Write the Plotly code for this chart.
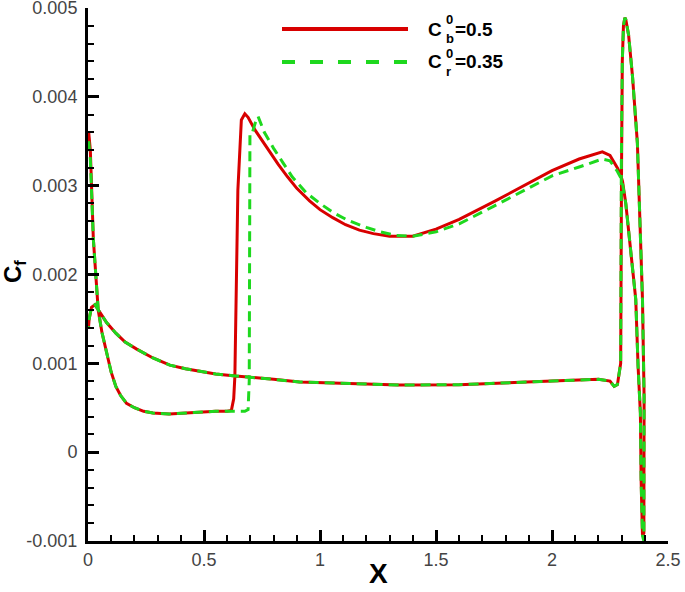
import plotly.graph_objects as go

# skin friction, red case (Cb0 = 0.5) - one closed loop: upper surface -> TE -> lower surface
x_red = [0.003, 0.01, 0.023, 0.035, 0.044, 0.06, 0.08, 0.1, 0.12, 0.14, 0.166, 0.2, 0.24, 0.28,
         0.35, 0.41, 0.48, 0.55, 0.6, 0.618, 0.628, 0.633, 0.646, 0.661, 0.676, 0.69, 0.719,
         0.769, 0.82, 0.86, 0.9, 0.955, 1.0, 1.055, 1.11, 1.17, 1.23, 1.3, 1.4, 1.5, 1.6, 1.75,
         1.9, 2.0, 2.117, 2.2, 2.217, 2.25, 2.282, 2.296, 2.304, 2.318, 2.332, 2.347, 2.361,
         2.371, 2.379, 2.381, 2.384, 2.39, 2.396, 2.397, 2.397, 2.39, 2.382, 2.379, 2.368, 2.347,
         2.33, 2.318, 2.314, 2.308, 2.303, 2.3, 2.298, 2.296, 2.282, 2.268, 2.25, 2.2, 2.0, 1.8,
         1.6, 1.342, 1.1, 0.912, 0.8, 0.7, 0.625, 0.55, 0.482, 0.42, 0.353, 0.28, 0.21, 0.16,
         0.12, 0.08, 0.05, 0.03, 0.015, 0.005, 0.002]
cf_red = [0.0036, 0.0034, 0.0024, 0.0019, 0.0016, 0.00135, 0.00112, 0.0009, 0.00074, 0.00064,
          0.00055, 0.0005, 0.00046, 0.00044, 0.00043, 0.00044, 0.00045, 0.00046, 0.00046,
          0.00047, 0.0006, 0.00085, 0.00295, 0.00374, 0.00381, 0.00377, 0.00363, 0.00343, 0.00324,
          0.0031, 0.00297, 0.00283, 0.00273, 0.00264, 0.00256, 0.0025, 0.00246, 0.00243, 0.00243,
          0.00251, 0.00262, 0.00282, 0.00303, 0.00317, 0.0033, 0.00337, 0.00338, 0.00334, 0.0032,
          0.00312, 0.00305, 0.0028, 0.00247, 0.0021, 0.00172, 0.00097, 0.00063, 0.00044, -0.0003,
          -0.00094, -0.00091, 0.00044, 0.00063, 0.00172, 0.00247, 0.00273, 0.00348, 0.00423,
          0.0047, 0.00487, 0.00489, 0.0048, 0.0044, 0.0033, 0.0015, 0.001, 0.00076, 0.00074,
          0.0008, 0.00082, 0.0008, 0.00078, 0.00076, 0.000755, 0.00077, 0.00079, 0.00082, 0.00084,
          0.00086, 0.00088, 0.00091, 0.00094, 0.00098, 0.00106, 0.00116, 0.00124, 0.00134,
          0.00146, 0.00158, 0.00166, 0.00163, 0.0015, 0.0014]

# green case (Cr0 = 0.35)
x_green = [0.003, 0.01, 0.023, 0.035, 0.044, 0.06, 0.08, 0.1, 0.12, 0.14, 0.166, 0.2, 0.24,
           0.28, 0.35, 0.41, 0.48, 0.55, 0.6, 0.65, 0.676, 0.69, 0.695, 0.698, 0.71, 0.72, 0.733,
           0.76, 0.8, 0.84, 0.88, 0.941, 1.0, 1.055, 1.12, 1.2, 1.26, 1.328, 1.4, 1.5, 1.6, 1.75,
           1.9, 2.0, 2.117, 2.217, 2.25, 2.282, 2.296, 2.304, 2.318, 2.332, 2.347, 2.361, 2.371,
           2.379, 2.381, 2.384, 2.39, 2.396, 2.397, 2.397, 2.39, 2.382, 2.379, 2.368, 2.347, 2.33,
           2.318, 2.314, 2.308, 2.303, 2.299, 2.297, 2.296, 2.282, 2.268, 2.25, 2.2, 2.0, 1.8,
           1.6, 1.342, 1.1, 0.912, 0.8, 0.7, 0.625, 0.55, 0.482, 0.42, 0.353, 0.28, 0.21, 0.16,
           0.12, 0.08, 0.05, 0.03, 0.015, 0.005, 0.002]
cf_green = [0.0035, 0.0033, 0.0024, 0.0019, 0.0016, 0.00135, 0.00112, 0.0009, 0.00074, 0.00064,
            0.00055, 0.0005, 0.00046, 0.00044, 0.00043, 0.00044, 0.00045, 0.00046, 0.00046,
            0.00046, 0.00046, 0.00048, 0.0008, 0.0036, 0.00361, 0.0037, 0.00378, 0.0036, 0.00342,
            0.00326, 0.0031, 0.00292, 0.0028, 0.0027, 0.00261, 0.00253, 0.00248, 0.00244,
            0.00243, 0.00248, 0.00257, 0.00277, 0.00297, 0.00311, 0.00321, 0.0033, 0.00328,
            0.00316, 0.00309, 0.00302, 0.0028, 0.00247, 0.0021, 0.00172, 0.00097, 0.00063,
            0.00044, -0.0003, -0.00094, -0.001, 0.00044, 0.00063, 0.00172, 0.00247, 0.00273,
            0.00348, 0.00423, 0.0047, 0.00487, 0.00489, 0.0048, 0.0044, 0.0033, 0.0015, 0.001,
            0.00076, 0.00074, 0.0008, 0.00082, 0.0008, 0.00078, 0.00076, 0.000755, 0.00077,
            0.00079, 0.00082, 0.00084, 0.00086, 0.00088, 0.00091, 0.00094, 0.00098, 0.00106,
            0.00116, 0.00124, 0.00134, 0.00146, 0.00158, 0.00166, 0.00163, 0.0015, 0.0014]

y_ticks = [-0.001, 0, 0.001, 0.002, 0.003, 0.004, 0.005]
y_ticktext = ["-0.001", "0", "0.001", "0.002", "0.003", "0.004", "0.005"]
x_ticks = [0, 0.5, 1, 1.5, 2, 2.5]
x_ticktext = ["0", "0.5", "1", "1.5", "2", "2.5"]

RED = "#d80000"
GREEN = "#1ed81e"
FONT = "Liberation Sans, Arial, sans-serif"

fig = go.Figure()
fig.add_trace(go.Scatter(x=x_red, y=cf_red, mode="lines",
                         line=dict(color=RED, width=3), showlegend=False))
fig.add_trace(go.Scatter(x=x_green, y=cf_green, mode="lines",
                         line=dict(color=GREEN, width=3, dash="10px,6px"), showlegend=False))

axis_common = dict(showgrid=False, zeroline=False, showline=True, linecolor="black",
                   linewidth=3, ticks="inside", ticklen=11, tickwidth=3, tickcolor="black",
                   automargin=False, ticklabeloverflow="allow",
                   tickfont=dict(family=FONT, size=18, color="#444"))

fig.update_xaxes(range=[0, 2.5], tickvals=x_ticks, ticktext=x_ticktext,
                 minor=dict(ticks="inside", dtick=0.1, ticklen=6, tickwidth=1.5, tickcolor="black"),
                 **axis_common)
fig.update_yaxes(range=[-0.001, 0.005], tickvals=y_ticks, ticktext=y_ticktext,
                 minor=dict(ticks="inside", dtick=0.0002, ticklen=6, tickwidth=1.5, tickcolor="black"),
                 ticklabelstandoff=4, **axis_common)

# axis titles
W0, W1, H0, H1 = 88, 668, 8, 541


def px(x):
    return (x - W0) / (W1 - W0)


def py(y):
    return (H1 - y) / (H1 - H0)


annotations = [
    dict(text="<b>X</b>", x=px(378), y=py(591), yanchor="bottom",
         font=dict(family=FONT, size=28, color="black")),
    dict(text="<b>C<sub>f</sub></b>", x=px(14), y=py(272), textangle=-90,
         font=dict(family=FONT, size=24, color="black")),
]

# hand-built legend so the super/subscripts can stack
legend_rows = [(29, RED, "solid", "b", "=0.5"), (62, GREEN, "13px,15px", "r", "=0.35")]
shapes = []
for ypix, col, dash, sub, val in legend_rows:
    shapes.append(dict(type="line", xref="paper", yref="paper", x0=px(282), x1=px(408),
                       y0=py(ypix), y1=py(ypix), line=dict(color=col, width=4, dash=dash)))
    annotations += [
        dict(text="<b>C</b>", x=px(426), y=py(ypix), xanchor="left",
             font=dict(family=FONT, size=19, color="black")),
        dict(text="<b>0</b>", x=px(444), y=py(ypix - 9), xanchor="left",
             font=dict(family=FONT, size=13, color="black")),
        dict(text="<b>" + sub + "</b>", x=px(444), y=py(ypix + 9), xanchor="left",
             font=dict(family=FONT, size=13, color="black")),
        dict(text="<b>" + val + "</b>", x=px(453), y=py(ypix), xanchor="left",
             font=dict(family=FONT, size=19, color="black")),
    ]

for a in annotations:
    a.update(xref="paper", yref="paper", showarrow=False)
    a.setdefault("xanchor", "center")
    a.setdefault("yanchor", "middle")

fig.update_layout(width=685, height=592, margin=dict(l=W0, r=685 - W1, t=H0, b=592 - H1),
                  plot_bgcolor="white", paper_bgcolor="white",
                  annotations=annotations, shapes=shapes)

# drop the page's default body margin so the figure sits at the window corner
fig.write_html("out.html", config={"displayModeBar": False},
               post_script="document.body.style.margin='0';")
